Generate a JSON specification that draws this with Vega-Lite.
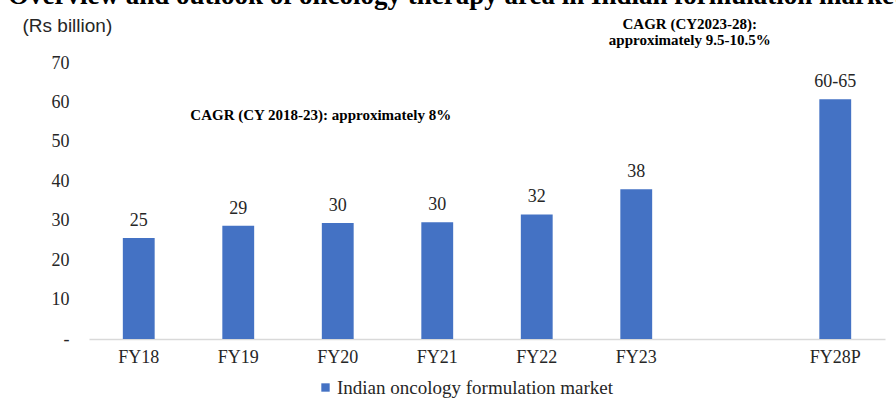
{
  "$schema": "https://vega.github.io/schema/vega-lite/v6.json",
  "autosize": {"type": "none"},
  "width": 796,
  "height": 276,
  "padding": {"left": 89, "top": 63, "right": 11, "bottom": 71},
  "background": "white",
  "title": {
    "text": "Overview and outlook of oncology therapy area in Indian formulation market",
    "anchor": "start",
    "frame": "group",
    "dx": -81,
    "dy": 25,
    "offset": 10,
    "font": "Liberation Serif",
    "fontSize": 27,
    "fontWeight": "bold",
    "color": "#000000",
    "baseline": "alphabetic"
  },
  "datasets": {
    "market": [
      {"year": "FY18", "value": 25.6, "label": "25"},
      {"year": "FY19", "value": 28.7, "label": "29"},
      {"year": "FY20", "value": 29.4, "label": "30"},
      {"year": "FY21", "value": 29.6, "label": "30"},
      {"year": "FY22", "value": 31.6, "label": "32"},
      {"year": "FY23", "value": 38.0, "label": "38"},
      {"year": "FY28P", "value": 60.8, "label": "60-65"}
    ],
    "notes": [
      {"year": "FY20", "value": 56.7, "note": "CAGR (CY 2018-23): approximately 8%"}
    ],
    "notes2": [
      {"year": " ", "value": 80.0}
    ]
  },
  "encoding": {
    "x": {
      "field": "year",
      "type": "nominal",
      "sort": null,
      "scale": {
        "domain": ["FY18", "FY19", "FY20", "FY21", "FY22", "FY23", " ", "FY28P"],
        "paddingInner": 0.68,
        "paddingOuter": 0.34
      },
      "axis": {
        "title": null,
        "labelAngle": 0,
        "ticks": false,
        "domainColor": "#d9d9d9",
        "domainWidth": 1.5,
        "labelFont": "Liberation Serif",
        "labelFontSize": 18,
        "labelColor": "#262626",
        "labelPadding": 9
      }
    },
    "y": {
      "field": "value",
      "type": "quantitative",
      "scale": {"domain": [0, 70], "nice": false},
      "axis": {
        "title": "(Rs billion)",
        "titleAngle": 0,
        "titleX": -67,
        "titleY": -32,
        "titleAlign": "left",
        "titleBaseline": "alphabetic",
        "titleFont": "Liberation Sans",
        "titleFontSize": 19,
        "titleFontWeight": "normal",
        "titleColor": "#262626",
        "values": [0, 10, 20, 30, 40, 50, 60, 70],
        "labelExpr": "datum.value == 0 ? '-' : datum.label",
        "labelFont": "Liberation Serif",
        "labelFontSize": 18,
        "labelColor": "#262626",
        "labelPadding": 20,
        "ticks": false,
        "domain": false,
        "grid": false
      }
    }
  },
  "layer": [
    {
      "data": {"name": "market"},
      "mark": {"type": "bar", "color": "#4472C4"},
      "encoding": {
        "color": {
          "datum": "Indian oncology formulation market",
          "scale": {"range": ["#4472C4"]},
          "legend": {
            "title": null,
            "orient": "none",
            "legendX": 227,
            "legendY": 315,
            "padding": 0,
            "symbolType": "square",
            "symbolSize": 70,
            "symbolStrokeWidth": 0,
            "labelFont": "Liberation Serif",
            "labelFontSize": 19,
            "labelColor": "#262626",
            "labelOffset": 2,
            "labelLimit": 0
          }
        }
      }
    },
    {
      "data": {"name": "market"},
      "mark": {
        "type": "text",
        "baseline": "alphabetic",
        "dy": -12,
        "font": "Liberation Serif",
        "fontSize": 18,
        "color": "#262626"
      },
      "encoding": {"text": {"field": "label"}}
    },
    {
      "data": {"name": "notes"},
      "mark": {
        "type": "text",
        "baseline": "middle",
        "dx": -17,
        "font": "Liberation Serif",
        "fontSize": 15,
        "fontWeight": "bold",
        "color": "#000000"
      },
      "encoding": {"text": {"field": "note"}}
    },
    {
      "data": {"name": "notes2"},
      "mark": {
        "type": "text",
        "baseline": "middle",
        "dx": -46,
        "lineHeight": 16,
        "font": "Liberation Serif",
        "fontSize": 15,
        "fontWeight": "bold",
        "color": "#000000"
      },
      "encoding": {"text": {"value": ["CAGR (CY2023-28):", "approximately 9.5-10.5%"]}}
    }
  ],
  "config": {"view": {"stroke": null}}
}
